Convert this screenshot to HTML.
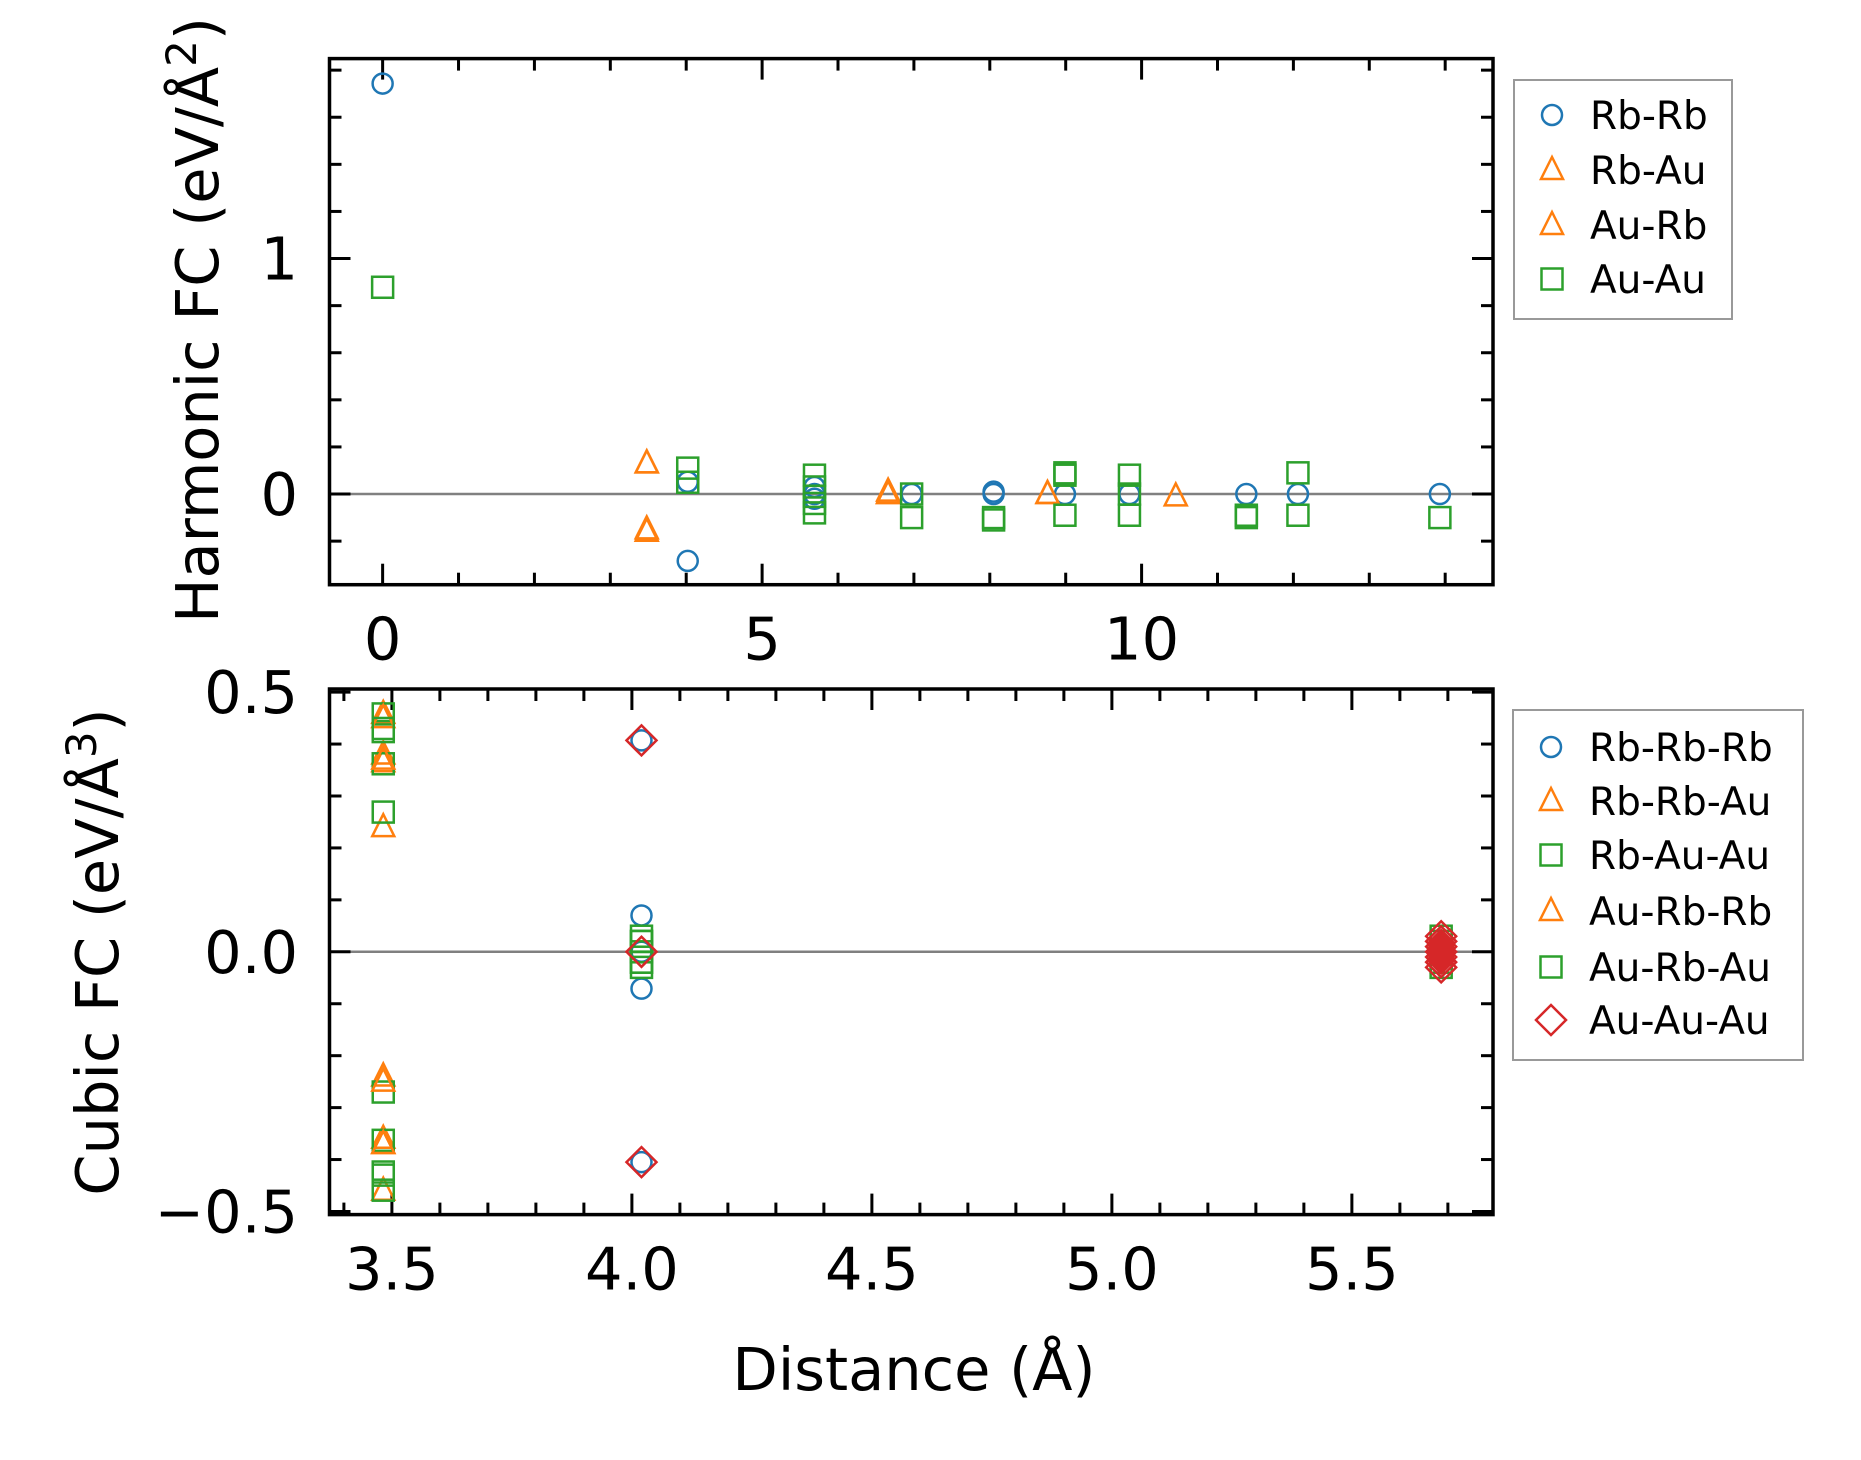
<!DOCTYPE html>
<html><head><meta charset="utf-8"><style>
body{margin:0;background:#fff}
svg{display:block;font-family:"DejaVu Sans","Liberation Sans",sans-serif}
</style></head><body>
<svg id="fig" width="1861" height="1460" viewBox="0 0 1861 1460">
<rect width="1861" height="1460" fill="#fff"/>
<g id="top"></g>
<g id="bot"></g>
<text x="218" y="320" font-size="59" text-anchor="middle" transform="rotate(-90 218 320)">Harmonic FC (eV/Å<tspan dy="-22" font-size="42">2</tspan><tspan dy="22">)</tspan></text>
<text x="118" y="952" font-size="59" text-anchor="middle" transform="rotate(-90 118 952)">Cubic FC (eV/Å<tspan dy="-22" font-size="42">3</tspan><tspan dy="22">)</tspan></text>
<text x="914" y="1390" font-size="59" text-anchor="middle">Distance (Å)</text>
</svg>
<script>
// ---- harmonic data ----
const rbRbX = [0, 4.02, 4.02, 5.69, 5.69, 5.69, 6.97, 8.05, 8.05, 8.99, 9.84, 11.38, 12.06, 13.93];
const rbRbY = [1.743, 0.052, -0.284, 0.03, 0.0, -0.02, 0.0, 0.0, 0.01, 0.0, 0.0, 0.0, 0.0, 0.0];
const rbAuX = [3.48, 3.48, 6.66, 6.66, 8.76, 10.45];
const rbAuY = [0.13, -0.16, 0.0, 0.01, 0.0, -0.01];
const auRbX = [3.48, 3.48, 6.66, 8.76];
const auRbY = [0.13, -0.15, 0.0, 0.0];
const auAuX = [0, 4.02, 4.02, 5.69, 5.69, 5.69, 5.69, 5.69, 6.97, 6.97, 8.05, 8.05, 8.99, 8.99, 8.99, 9.84, 9.84, 9.84, 11.38, 11.38, 12.06, 12.06, 13.93];
const auAuY = [0.878, 0.11, 0.05, 0.08, 0.03, -0.01, -0.04, -0.08, 0.0, -0.1, -0.1, -0.11, 0.09, 0.08, -0.09, 0.08, 0.0, -0.09, -0.09, -0.1, 0.09, -0.09, -0.1];
const topXTicks = [0, 5, 10];
const topYTicks = [0, 1];
// ---- cubic data ----
const c1X = [4.02, 4.02, 4.02, 4.02, 4.02, 5.686];
const c1Y = [0.407, 0.07, 0.0, -0.071, -0.405, 0.0];
const c2X = [3.482, 3.482, 3.482, 3.482, 3.482, 3.482, 3.482, 3.482];
const c2Y = [0.458, 0.38, 0.365, 0.24, -0.24, -0.36, -0.37, -0.46];
const c3X = [3.482, 3.482, 3.482, 3.482, 3.482, 3.482, 3.482, 3.482, 4.02, 4.02, 4.02, 4.02, 4.02, 5.686, 5.686, 5.686];
const c3Y = [0.458, 0.424, 0.362, 0.269, -0.27, -0.363, -0.424, -0.459, 0.03, 0.02, 0.0, -0.02, -0.03, 0.03, 0.0, -0.03];
const c4X = [3.482, 3.482, 3.482, 3.482];
const c4Y = [0.45, 0.37, -0.25, -0.37];
const c5X = [3.482, 3.482, 4.02, 4.02, 5.686, 5.686];
const c5Y = [0.43, -0.43, 0.02, -0.02, 0.02, -0.02];
const c6X = [4.02, 4.02, 4.02, 5.686, 5.686, 5.686, 5.686, 5.686, 5.686, 5.686];
const c6Y = [0.407, 0.0, -0.405, 0.03, 0.02, 0.01, 0.0, -0.01, -0.02, -0.03];
const botXTicks = [3.5, 4.0, 4.5, 5.0, 5.5];
const botYTicks = [-0.5, 0.0, 0.5];

const NS = "http://www.w3.org/2000/svg";
const L = 329.5, R = 1493;
function mk(tag, attrs, parent){const e=document.createElementNS(NS,tag);for(const k in attrs)e.setAttribute(k,attrs[k]);parent.appendChild(e);return e;}
const C = {b:"#1f77b4",o:"#ff7f0e",g:"#2ca02c",r:"#d62728"};
function marker(parent, type, cx, cy, color, name){
  let e;
  if(type==="o") e=mk("circle",{cx:cx,cy:cy,r:10,fill:"none",stroke:color,"stroke-width":2.5},parent);
  else if(type==="s") e=mk("rect",{x:cx-10.5,y:cy-10.5,width:21,height:21,fill:"none",stroke:color,"stroke-width":2.5},parent);
  else if(type==="^") e=mk("polygon",{points:`${cx},${cy-13} ${cx-11},${cy+9} ${cx+11},${cy+9}`,fill:"none",stroke:color,"stroke-width":2.5},parent);
  else e=mk("polygon",{points:`${cx},${cy-15} ${cx+15},${cy} ${cx},${cy+15} ${cx-15},${cy}`,fill:"none",stroke:color,"stroke-width":2.5},parent);
  
  
  return e;
}
function panel(g, T, B, xmin, xmax, ymin, ymax, xMajor, xMinorStep, yMajor, yMinorStep, xFmt, yFmt){
  const sx=v=>L+(v-xmin)/(xmax-xmin)*(R-L);
  const sy=v=>B-(v-ymin)/(ymax-ymin)*(B-T);
  const z=mk("line",{x1:L,x2:R,y1:sy(0),y2:sy(0),stroke:"#808080","stroke-width":2.5},g);
  
  
  const tk=mk("g",{stroke:"#000","stroke-width":3},g);
  
  
  for(let v=Math.ceil(xmin/xMinorStep-1e-9)*xMinorStep; v<=xmax+1e-9; v+=xMinorStep){
    const isMaj = xMajor.some(m=>Math.abs(m-v)<1e-6); const len=isMaj?21:12; const x=sx(v);
    mk("line",{x1:x,x2:x,y1:B,y2:B-len},tk); mk("line",{x1:x,x2:x,y1:T,y2:T+len},tk);
  }
  for(let v=Math.ceil(ymin/yMinorStep-1e-9)*yMinorStep; v<=ymax+1e-9; v+=yMinorStep){
    const isMaj = yMajor.some(m=>Math.abs(m-v)<1e-6); const len=isMaj?21:12; const y=sy(v);
    mk("line",{x1:L,x2:L+len,y1:y,y2:y},tk); mk("line",{x1:R,x2:R-len,y1:y,y2:y},tk);
  }
  xMajor.forEach(v=>{const t=mk("text",{x:sx(v),y:B+75,"font-size":59,"text-anchor":"middle"},g);t.textContent=xFmt(v);
    
    });
  yMajor.forEach(v=>{const t=mk("text",{x:298,y:sy(v)+21,"font-size":59,"text-anchor":"end"},g);t.textContent=yFmt(v);
    
    });
  const f=mk("rect",{x:L,y:T,width:R-L,height:B-T,fill:"none",stroke:"#000","stroke-width":3.5},g);
  
  
  return {sx,sy};
}
function legend(g, x, y, w, h, entries){
  const box=mk("rect",{x:x,y:y,width:w,height:h,fill:"#fff",stroke:"#999","stroke-width":2},g);
  
  
  entries.forEach(en=>{
    marker(g,en[0],x+38,en[3],en[1],'legend-marker');
    const t=mk("text",{x:x+76,y:en[3]+14,"font-size":39},g);t.textContent=en[2];
    
    
  });
}
// top
const gt=document.getElementById("top");
const a=panel(gt,58.6,584.7,-0.70,14.63,-0.385,1.849,topXTicks,1,topYTicks,0.2,v=>String(v),v=>String(v));
function plot(g,ax,xs,ys,type,color,name){xs.forEach((x,i)=>marker(g,type,ax.sx(x),ax.sy(ys[i]),color,name));}
plot(gt,a,rbRbX,rbRbY,"o",C.b,"rb-rb-point");
plot(gt,a,rbAuX,rbAuY,"^",C.o,"rb-au-point");
plot(gt,a,auRbX,auRbY,"^",C.o,"au-rb-point");
plot(gt,a,auAuX,auAuY,"s",C.g,"au-au-point");
legend(gt,1514,80,218,239,[["o",C.b,"Rb-Rb",115],["^",C.o,"Rb-Au",170],["^",C.o,"Au-Rb",225],["s",C.g,"Au-Au",279]]);
// bottom
const gb=document.getElementById("bot");
const b=panel(gb,689,1214.6,3.370,5.794,-0.506,0.506,botXTicks,0.1,botYTicks,0.1,v=>v.toFixed(1),v=>(v<0?"−":"")+Math.abs(v).toFixed(1));
plot(gb,b,c1X,c1Y,"o",C.b,"rb-rb-rb-point");
plot(gb,b,c2X,c2Y,"^",C.o,"rb-rb-au-point");
plot(gb,b,c3X,c3Y,"s",C.g,"rb-au-au-point");
plot(gb,b,c4X,c4Y,"^",C.o,"au-rb-rb-point");
plot(gb,b,c5X,c5Y,"s",C.g,"au-rb-au-point");
plot(gb,b,c6X,c6Y,"D",C.r,"au-au-au-point");
const cl=mk("polygon",{points:`${b.sx(5.686)},${b.sy(0.045)} ${b.sx(5.686)+13},${b.sy(0.02)} ${b.sx(5.686)+13},${b.sy(-0.02)} ${b.sx(5.686)},${b.sy(-0.045)} ${b.sx(5.686)-13},${b.sy(-0.02)} ${b.sx(5.686)-13},${b.sy(0.02)}`,fill:C.r},gb);


legend(gb,1513,710,290,350,[["o",C.b,"Rb-Rb-Rb",747],["^",C.o,"Rb-Rb-Au",801],["s",C.g,"Rb-Au-Au",855],["^",C.o,"Au-Rb-Rb",911],["s",C.g,"Au-Rb-Au",967],["D",C.r,"Au-Au-Au",1020]]);
</script>
</body></html>
